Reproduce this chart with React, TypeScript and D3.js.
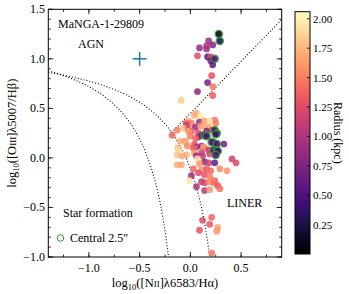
import React from 'react';
import * as d3 from 'd3';

// spaxel line ratios
const logNII = [
  0.28, 0.29, 0.18, 0.22, 0.16, 0.09, 0.16, 0.07, 0.17, 0.20, 0.24, 0.20, 0.22, 0.21, 0.17, 0.22, 0.07, 0.22, -0.09,
  0.06, 0.09, 0.11, 0.04, 0.24, 0.25, -0.02, 0.01, 0.09, 0.14, 0.19, -0.04, -0.04, 0.05, 0.10, 0.13, 0.18,
  -0.13, -0.07, -0.02, 0.01, 0.08, 0.16, 0.22, 0.24, 0.26, 0.14, -0.18, -0.02, 0.00, 0.08, 0.05, 0.11, 0.16, 0.25,
  0.23, 0.21, 0.26, 0.33, -0.10, -0.05, -0.04, -0.12, -0.03, 0.04, 0.06, 0.11, 0.13, 0.14, 0.03, 0.18,
  0.23, 0.26, 0.27, 0.25, -0.12, 0.04, 0.11, 0.19, -0.04, 0.06, 0.12, -0.13, -0.08, 0.41, 0.45, 0.07,
  0.14, 0.18, 0.24, -0.13, -0.09, 0.09, 0.03, 0.11, 0.16, 0.20, 0.29, 0.36, 0.08, 0.01, 0.14, 0.19,
  0.24, -0.01, 0.11, 0.14, 0.19, 0.23, 0.06, 0.27, 0.14, 0.19, 0.29,
  0.21, 0.12, 0.19, 0.27, 0.26, 0.09, 0.21,
];
const logOIII = [
  1.25, 1.18, 1.18, 1.14, 1.13, 1.11, 1.10, 1.03, 1.02, 1.02, 1.00, 0.98, 0.94, 0.83, 0.76, 0.72, 0.67, 0.63, 0.58,
  0.45, 0.43, 0.42, 0.43, 0.38, 0.35, 0.37, 0.35, 0.36, 0.37, 0.37, 0.35, 0.33, 0.31, 0.32, 0.32, 0.31,
  0.28, 0.30, 0.29, 0.27, 0.25, 0.27, 0.28, 0.28, 0.25, 0.23, 0.23, 0.27, 0.22, 0.21, 0.20, 0.23, 0.22, 0.24,
  0.15, 0.16, 0.14, 0.14, 0.17, 0.17, 0.15, 0.10, 0.12, 0.14, 0.11, 0.12, 0.11, 0.10, 0.10, 0.08,
  0.08, 0.08, 0.07, 0.03, 0.08, 0.05, 0.05, 0.04, 0.03, 0.02, 0.02, 0.03, 0.02, -0.01, -0.05, -0.01,
  -0.04, -0.05, -0.05, -0.07, -0.07, -0.06, -0.11, -0.12, -0.11, -0.13, -0.11, -0.13, -0.15, -0.18, -0.17, -0.19,
  -0.23, -0.23, -0.24, -0.25, -0.24, -0.25, -0.29, -0.28, -0.33, -0.32, -0.31,
  -0.60, -0.63, -0.67, -0.70, -0.74, -0.73, -0.96,
];
const radiusKpc = [
  0.12, 0.30, 0.90, 0.75, 1.00, 0.85, 0.95, 1.25, 0.55, 1.20, 0.50, 0.70, 0.60, 1.30, 0.70, 1.45, 0.80, 1.35, 1.85,
  1.65, 1.90, 2.00, 1.70, 1.45, 1.50, 1.65, 1.50, 0.85, 1.65, 1.90, 1.40, 1.10, 0.85, 1.60, 1.70, 1.65,
  1.50, 1.80, 1.30, 1.35, 1.20, 0.75, 1.10, 0.40, 0.50, 0.50, 1.40, 1.65, 1.50, 0.80, 1.40, 0.80, 0.50, 0.45,
  0.40, 0.55, 0.50, 0.70, 1.70, 1.60, 1.75, 1.70, 1.55, 1.30, 1.00, 0.80, 1.65, 1.60, 1.35, 1.10,
  0.45, 0.45, 0.50, 0.50, 1.90, 1.60, 1.15, 1.20, 1.70, 0.85, 1.10, 1.80, 1.70, 1.15, 1.20, 1.95,
  0.80, 1.15, 0.60, 1.70, 1.65, 1.60, 1.40, 1.60, 1.30, 1.40, 1.55, 1.60, 1.25, 0.90, 1.30, 1.50,
  1.40, 1.95, 1.10, 1.20, 1.55, 1.45, 1.00, 1.30, 1.05, 1.60, 1.45,
  1.40, 1.25, 1.30, 1.65, 1.60, 1.30, 1.45,
];
// indices of spaxels inside the central 2.5" aperture
const centralIdx = [0, 1, 10, 43, 44, 45, 52, 53, 54, 55, 56, 70, 71, 72, 73];

const xTicks = [-1.0, -0.5, 0.0, 0.5];
const yTicks = [-1.0, -0.5, 0.0, 0.5, 1.0, 1.5];
const cbTicks = [0.25, 0.5, 0.75, 1.0, 1.25, 1.5, 1.75, 2.0];

const W = 349, H = 294;
const m = { left: 48.3, right: 281.7, top: 9.3, bottom: 257 };
const font = '"Liberation Serif", "Times New Roman", serif';

export default function App() {
  const x = d3.scaleLinear().domain([-1.4, 0.9]).range([m.left, m.right]);
  const y = d3.scaleLinear().domain([-1.0, 1.5]).range([m.bottom, m.top]);
  const cb = d3.scaleLinear().domain([0.0, 2.06]).range([254, 11.7]);
  const color = (r: number) => d3.interpolateMagma(r / 2.06);
  const fmt = d3.format('.1f');

  // demarcation curves
  const kewley = (v: number) => 0.61 / (v - 0.47) + 1.19;
  const kauff = (v: number) => 0.61 / (v - 0.05) + 1.3;
  const schaw = (v: number) => 1.05 * v + 0.45;
  const line = d3.line<number>().x(d => x(d)).y(d => y(f(d)));
  let f = kewley;
  const kx = d3.range(-1.4, 0.2, 0.005);
  const kewPath = line(kx);
  f = kauff;
  const kaPath = line(d3.range(-1.4, -0.21, 0.005));
  f = schaw;
  const sPath = line([-0.184, 0.9]);

  const pts = logNII.map((v, i) => ({ x: v, y: logOIII[i], r: radiusKpc[i], c: centralIdx.includes(i) }));
  const back = pts.filter(p => !p.c);
  const front = pts.filter(p => p.c);

  const xMinor = d3.range(-1.25, 0.9, 0.25);
  const yMinor = d3.range(-1.0, 1.5001, 0.1);
  const stops = d3.range(0, 1.0001, 0.05);

  return (
    <svg width={W} height={H} style={{ position: 'absolute', left: 0, top: 0 }} fontFamily={font}>
      <defs>
        <clipPath id="plot">
          <rect x={m.left} y={m.top} width={m.right - m.left} height={m.bottom - m.top} />
        </clipPath>
        <linearGradient id="magma" x1="0" y1="1" x2="0" y2="0">
          {stops.map(s => <stop key={s} offset={s} stopColor={d3.interpolateMagma(s)} />)}
        </linearGradient>
      </defs>

      <g clipPath="url(#plot)" fill="none" stroke="#000" strokeWidth={1.1} strokeDasharray="1 2">
        <path d={kewPath || ''} />
        <path d={kaPath || ''} />
        <path d={sPath || ''} />
      </g>

      <g clipPath="url(#plot)">
        {back.map((p, i) => (
          <circle key={i} cx={x(p.x)} cy={y(p.y)} r={3.4} fill={color(p.r)} opacity={0.85} />
        ))}
        {front.map((p, i) => (
          <circle key={'c' + i} cx={x(p.x)} cy={y(p.y)} r={3.6} fill={color(p.r)} stroke="#2e9a2e" strokeWidth={1.3} opacity={0.9} />
        ))}
      </g>

      {/* AGN reference cross */}
      <g stroke="#1f77b4" strokeWidth={1.5}>
        <line x1={x(-0.5) - 7} x2={x(-0.5) + 7} y1={y(1.0)} y2={y(1.0)} />
        <line x1={x(-0.5)} x2={x(-0.5)} y1={y(1.0) - 7} y2={y(1.0) + 7} />
      </g>

      {/* frame and ticks */}
      <rect x={m.left} y={m.top} width={m.right - m.left} height={m.bottom - m.top} fill="none" stroke="#000" strokeWidth={1} />
      <g stroke="#000" strokeWidth={0.8}>
        {xTicks.map(t => (
          <g key={'xt' + t}>
            <line x1={x(t)} x2={x(t)} y1={m.bottom} y2={m.bottom - 5} />
            <line x1={x(t)} x2={x(t)} y1={m.top} y2={m.top + 5} />
          </g>
        ))}
        {xMinor.map(t => (
          <g key={'xm' + t}>
            <line x1={x(t)} x2={x(t)} y1={m.bottom} y2={m.bottom - 2.5} />
            <line x1={x(t)} x2={x(t)} y1={m.top} y2={m.top + 2.5} />
          </g>
        ))}
        {yTicks.map(t => (
          <g key={'yt' + t}>
            <line x1={m.left} x2={m.left + 5} y1={y(t)} y2={y(t)} />
            <line x1={m.right} x2={m.right - 5} y1={y(t)} y2={y(t)} />
          </g>
        ))}
        {yMinor.map(t => (
          <g key={'ym' + t}>
            <line x1={m.left} x2={m.left + 2.5} y1={y(t)} y2={y(t)} />
            <line x1={m.right} x2={m.right - 2.5} y1={y(t)} y2={y(t)} />
          </g>
        ))}
      </g>

      <g fontSize={12} fill="#000">
        {xTicks.map(t => (
          <text key={'xl' + t} x={x(t)} y={272} textAnchor="middle">{fmt(t)}</text>
        ))}
        {yTicks.map(t => (
          <text key={'yl' + t} x={45} y={y(t) + 4} textAnchor="end">{fmt(t)}</text>
        ))}
      </g>

      {/* axis labels */}
      <text x={(m.left + m.right) / 2} y={287} textAnchor="middle" fontSize={12.5}>
        log<tspan fontSize={8.5} dy={3}>10</tspan><tspan dy={-3}>([N</tspan><tspan fontSize={9}>II</tspan>]λ6583/Hα)
      </text>
      <text transform={`translate(16,${(m.top + m.bottom) / 2}) rotate(-90)`} textAnchor="middle" fontSize={12.5}>
        log<tspan fontSize={8.5} dy={3}>10</tspan><tspan dy={-3}>([O</tspan><tspan fontSize={9}>III</tspan>]λ5007/Hβ)
      </text>

      {/* annotations */}
      <g fontSize={12} fill="#000">
        <text x={58} y={28}>MaNGA-1-29809</text>
        <text x={91} y={48} textAnchor="middle">AGN</text>
        <text x={63} y={217}>Star formation</text>
        <text x={227} y={207}>LINER</text>
        <text x={70} y={242}>Central 2.5″</text>
      </g>
      <circle cx={60.5} cy={238} r={3.3} fill="none" stroke="#2e9a2e" strokeWidth={1} />

      {/* colorbar */}
      <rect x={295} y={11.7} width={15} height={254 - 11.7} fill="url(#magma)" stroke="#000" strokeWidth={1} />
      <g stroke="#000" strokeWidth={0.8}>
        {cbTicks.map(t => (
          <line key={'cbt' + t} x1={310} x2={307} y1={cb(t)} y2={cb(t)} />
        ))}
      </g>
      <g fontSize={11} fill="#000">
        {cbTicks.map(t => (
          <text key={'cbl' + t} x={313} y={cb(t) + 4}>{d3.format('.2f')(t)}</text>
        ))}
      </g>
      <text transform={`translate(334,${(11.7 + 254) / 2}) rotate(90)`} textAnchor="middle" fontSize={12}>
        Radius (kpc)
      </text>
    </svg>
  );
}
